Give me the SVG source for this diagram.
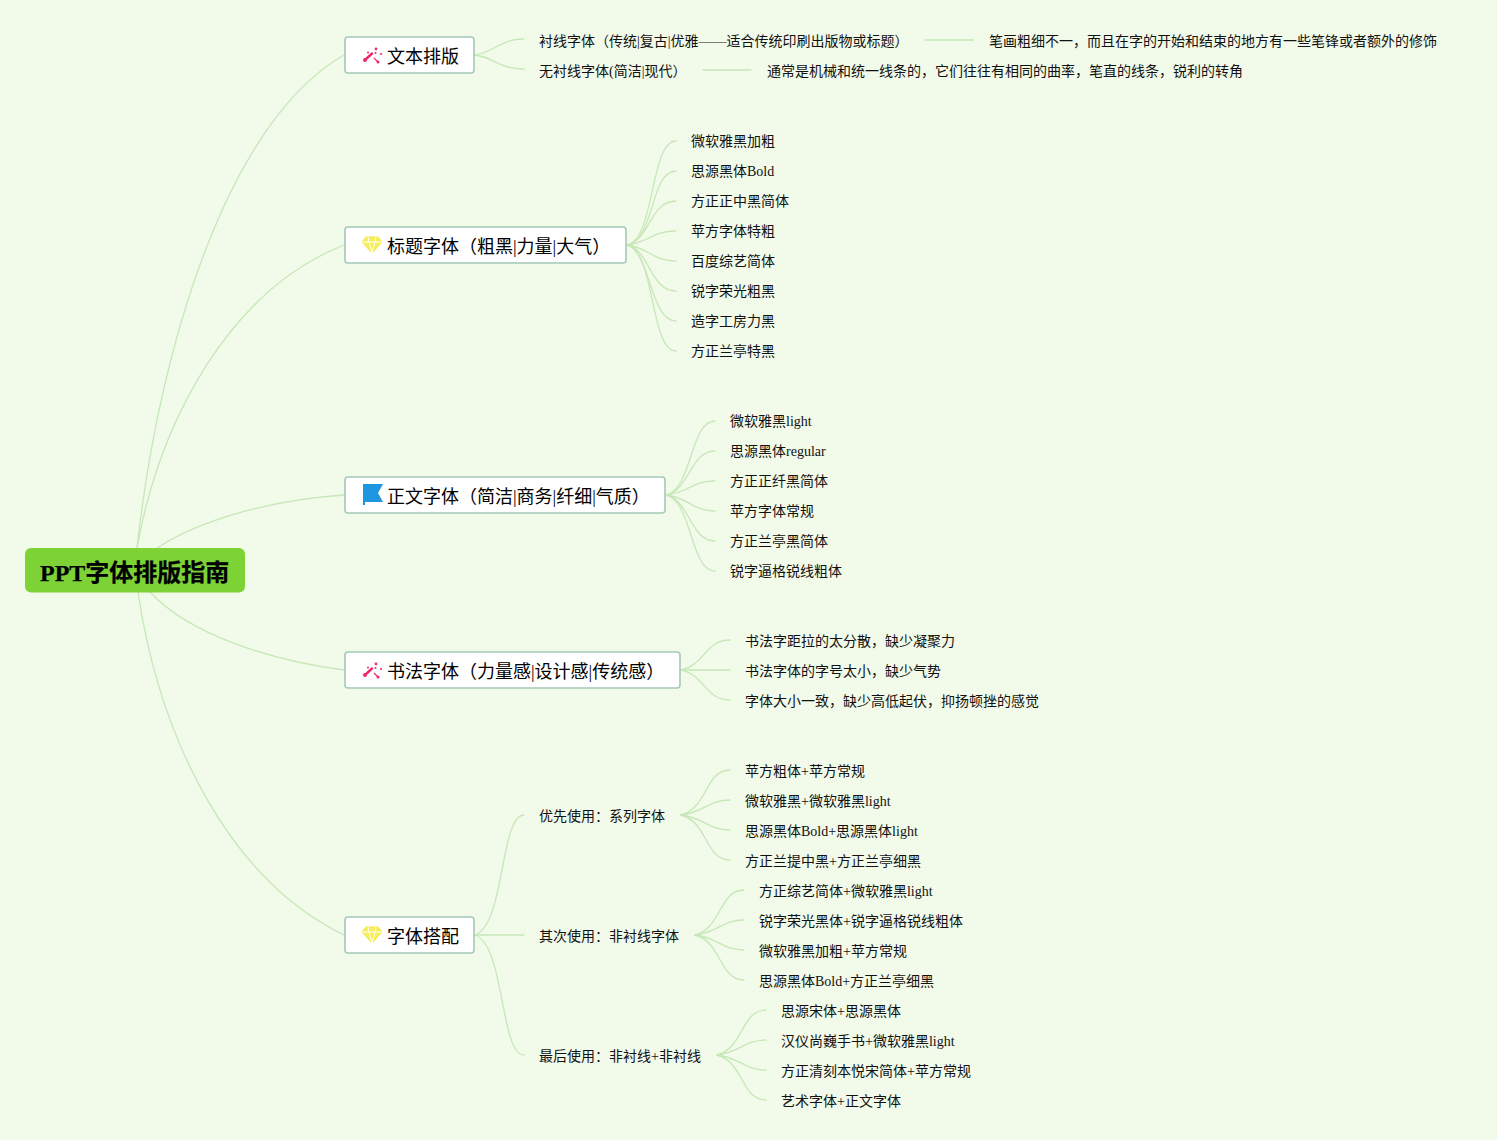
<svg xmlns="http://www.w3.org/2000/svg" width="1497" height="1140" viewBox="0 0 1497 1140">
<style>
text{font-family:"Liberation Serif","Noto Sans CJK SC",serif;fill:#111}
.l{font-size:14px}
.t{font-size:18px;fill:#000}
.r{font-size:24px;font-weight:700;fill:#000;stroke:#000;stroke-width:.25}
.b{fill:#fff;stroke:#a3c9b8;stroke-width:1.6}
#connectors path{fill:none;stroke:#c6e8b8;stroke-width:1.3;stroke-linecap:round}
</style>
<defs>
<g id="wand" fill="#ee2b6c"><path d="M-8 5L-1-1.500" stroke="#ee2b6c" stroke-width="2.4" stroke-linecap="round" fill="none"/><circle cx="-8" cy="5" r="2"/><circle cx="-5" cy="-2.500" r="1"/><circle cx="3" cy="-6" r="1.400"/><circle cx="8" cy="-1" r="1.100"/><circle cx="5" cy="7" r="1.500"/><path d="M1 3L5 7" stroke="#ee2b6c" stroke-width="1.200" fill="none"/><circle cx="2.500" cy="-2" r="1"/></g>
<g id="gem"><path d="M-6-7H6L10-2 0 9-10-2Z" fill="#f7ee5c" stroke="#f3e33a"/><path d="M-10-2H10M-4-7L-3-2 0 9 3-2 4-7" stroke="#fff" stroke-width="1" fill="none"/></g>
</defs>
<rect width="1497" height="1140" fill="#f2fae9"/>
<g id="connectors">
<path d="M137 548C160 340 230 120 344 55"/>
<path d="M137 548C160 420 230 290 344 245"/>
<path d="M157 548C200 520 270 500 344 495"/>
<path d="M150 592C190 635 270 660 344 670"/>
<path d="M138 592C160 740 230 880 344 935"/>
<path d="M475 55C495 52 500 39 524 39"/>
<path d="M475 55C495 58 500 69 524 69"/>
<path d="M925 40H973"/>
<path d="M703 70H751"/>
<path d="M627 245C655 240 650 141 676 141"/>
<path d="M627 245C655 240 650 171 676 171"/>
<path d="M627 245C650 240 650 201 676 201"/>
<path d="M627 245C650 242 652 231 676 231"/>
<path d="M627 245C650 248 652 261 676 261"/>
<path d="M627 245C650 250 650 291 676 291"/>
<path d="M627 245C650 250 650 321 676 321"/>
<path d="M627 245C655 250 650 351 676 351"/>
<path d="M666 495C692 490 690 421 715 421"/>
<path d="M666 495C690 490 690 451 715 451"/>
<path d="M666 495C690 492 692 481 715 481"/>
<path d="M666 495C690 498 692 511 715 511"/>
<path d="M666 495C690 500 690 541 715 541"/>
<path d="M666 495C692 500 690 571 715 571"/>
<path d="M681 670C705 665 705 640 730 640"/>
<path d="M681 670H730"/>
<path d="M681 670C705 675 705 700 730 700"/>
<path d="M475 935C505 925 500 815 524 815"/>
<path d="M475 935H524"/>
<path d="M475 935C505 945 500 1055 524 1055"/>
<path d="M681 815C708 808 705 770 730 770"/>
<path d="M681 815C705 812 708 800 730 800"/>
<path d="M681 815C705 818 708 830 730 830"/>
<path d="M681 815C708 822 705 860 730 860"/>
<path d="M695 935C722 928 719 890 744 890"/>
<path d="M695 935C719 932 722 920 744 920"/>
<path d="M695 935C719 938 722 950 744 950"/>
<path d="M695 935C722 942 719 980 744 980"/>
<path d="M717 1055C744 1048 741 1010 766 1010"/>
<path d="M717 1055C741 1052 744 1040 766 1040"/>
<path d="M717 1055C741 1058 744 1070 766 1070"/>
<path d="M717 1055C744 1062 741 1100 766 1100"/>
</g>
<g id="root"><rect x="25" y="548" width="220" height="44.500" rx="6" fill="#7dd236"/><text class="r" x="40" y="581">PPT字体排版指南</text></g>
<g id="n1"><rect class="b" x="345" y="37" width="129" height="36" rx="3"/><use href="#wand" x="373" y="55"/><text class="t" x="387" y="63">文本排版</text></g>
<g id="n2"><rect class="b" x="345" y="227" width="281" height="36" rx="3"/><use href="#gem" x="372" y="244"/><text class="t" x="387" y="253">标题字体（粗黑|力量|大气）</text></g>
<g id="n3"><rect class="b" x="345" y="477" width="320" height="36" rx="3"/><path d="M363 484H383L378 493 383 502H365V505H363Z" fill="#1e96e0"/><text class="t" x="387" y="503">正文字体（简洁|商务|纤细|气质）</text></g>
<g id="n4"><rect class="b" x="345" y="652" width="335" height="36" rx="3"/><use href="#wand" x="373" y="670"/><text class="t" x="387" y="678">书法字体（力量感|设计感|传统感）</text></g>
<g id="n5"><rect class="b" x="345" y="917" width="129" height="36" rx="3"/><use href="#gem" x="372" y="934"/><text class="t" x="387" y="943">字体搭配</text></g>
<g id="leaves">
<text class="l" x="539" y="46">衬线字体（传统|复古|优雅——适合传统印刷出版物或标题）</text>
<text class="l" x="989" y="46">笔画粗细不一，而且在字的开始和结束的地方有一些笔锋或者额外的修饰</text>
<text class="l" x="539" y="76">无衬线字体(简洁|现代）</text>
<text class="l" x="767" y="76">通常是机械和统一线条的，它们往往有相同的曲率，笔直的线条，锐利的转角</text>
<text class="l" x="691" y="146">微软雅黑加粗</text>
<text class="l" x="691" y="176">思源黑体Bold</text>
<text class="l" x="691" y="206">方正正中黑简体</text>
<text class="l" x="691" y="236">苹方字体特粗</text>
<text class="l" x="691" y="266">百度综艺简体</text>
<text class="l" x="691" y="296">锐字荣光粗黑</text>
<text class="l" x="691" y="326">造字工房力黑</text>
<text class="l" x="691" y="356">方正兰亭特黑</text>
<text class="l" x="730" y="426">微软雅黑light</text>
<text class="l" x="730" y="456">思源黑体regular</text>
<text class="l" x="730" y="486">方正正纤黑简体</text>
<text class="l" x="730" y="516">苹方字体常规</text>
<text class="l" x="730" y="546">方正兰亭黑简体</text>
<text class="l" x="730" y="576">锐字逼格锐线粗体</text>
<text class="l" x="745" y="646">书法字距拉的太分散，缺少凝聚力</text>
<text class="l" x="745" y="676">书法字体的字号太小，缺少气势</text>
<text class="l" x="745" y="706">字体大小一致，缺少高低起伏，抑扬顿挫的感觉</text>
<text class="l" x="539" y="821">优先使用：系列字体</text>
<text class="l" x="539" y="941">其次使用：非衬线字体</text>
<text class="l" x="539" y="1061">最后使用：非衬线+非衬线</text>
<text class="l" x="745" y="776">苹方粗体+苹方常规</text>
<text class="l" x="745" y="806">微软雅黑+微软雅黑light</text>
<text class="l" x="745" y="836">思源黑体Bold+思源黑体light</text>
<text class="l" x="745" y="866">方正兰提中黑+方正兰亭细黑</text>
<text class="l" x="759" y="896">方正综艺简体+微软雅黑light</text>
<text class="l" x="759" y="926">锐字荣光黑体+锐字逼格锐线粗体</text>
<text class="l" x="759" y="956">微软雅黑加粗+苹方常规</text>
<text class="l" x="759" y="986">思源黑体Bold+方正兰亭细黑</text>
<text class="l" x="781" y="1016">思源宋体+思源黑体</text>
<text class="l" x="781" y="1046">汉仪尚巍手书+微软雅黑light</text>
<text class="l" x="781" y="1076">方正清刻本悦宋简体+苹方常规</text>
<text class="l" x="781" y="1106">艺术字体+正文字体</text>
</g>
</svg>
